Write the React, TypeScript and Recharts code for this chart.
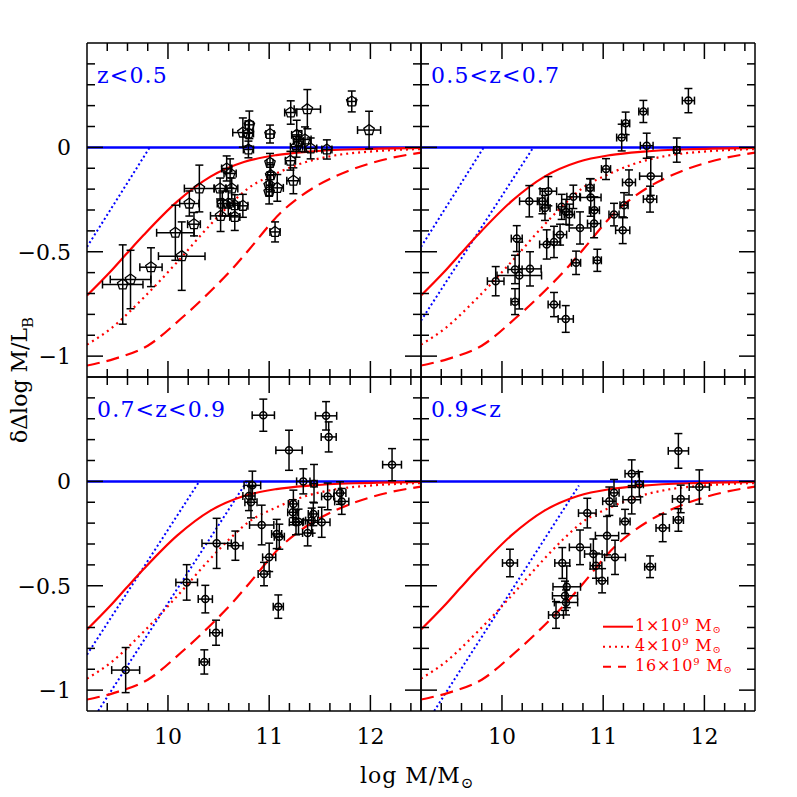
import { ComposedChart, Line, Scatter, ErrorBar, XAxis, YAxis } from 'recharts'

// axis ranges and ticks
const X_DOMAIN = [9.2, 12.5]
const Y_DOMAIN = [-1.1, 0.5]
const xMajor = [10, 11, 12]
const xTicks = [9.4, 9.6, 9.8, 10, 10.2, 10.4, 10.6, 10.8, 11, 11.2, 11.4, 11.6, 11.8, 12, 12.2, 12.4]
const yMajor = [0, -0.5, -1]
const yTicks = [0.4, 0.3, 0.2, 0.1, 0, -0.1, -0.2, -0.3, -0.4, -0.5, -0.6, -0.7, -0.8, -0.9, -1]

// model curves (burst mass)
const burst1e9 = [[9.2, -0.71], [9.43, -0.596], [9.59, -0.51], [9.76, -0.42], [10.09, -0.26], [10.42, -0.14], [10.75, -0.07], [11.07, -0.037], [11.4, -0.02], [11.9, -0.008], [12.5, -0.002]]
const burst4e9 = [[9.2, -0.945], [9.43, -0.87], [9.76, -0.72], [10.09, -0.55], [10.42, -0.37], [10.6, -0.28], [10.81, -0.19], [11.07, -0.125], [11.3, -0.08], [11.63, -0.04], [12.0, -0.02], [12.5, -0.008]]
const burst16e9 = [[9.2, -1.045], [9.47, -1.013], [9.8, -0.95], [10.13, -0.82], [10.46, -0.67], [10.64, -0.58], [10.8, -0.49], [11.12, -0.31], [11.45, -0.19], [11.78, -0.113], [12.1, -0.063], [12.5, -0.025]]
const zeroLine = [[9.2, 0], [12.5, 0]]

// blue dotted limits per panel
const limitA = [[9.2, -0.477], [9.82, 0]]
const limitB = [[9.2, -0.83], [10.31, 0]]
const limitC = [[9.31, -1.1], [10.78, 0]]
const limitC4 = [[9.33, -1.1], [10.76, -0.02]]

// galaxies: [log M, dlog M/L, err x, err y]
const galZ1 = [
  [9.553, -0.657, 0.2, 0.19], [9.63, -0.633, 0.2, 0.14], [9.832, -0.574, 0.11, 0.093], [10.136, -0.521, 0.23, 0.164],
  [10.073, -0.409, 0.185, 0.132], [10.257, -0.368, 0.063, 0.056], [10.211, -0.269, 0.095, 0.06], [10.31, -0.197, 0.148, 0.112],
  [10.515, -0.197, 0.06, 0.05], [10.63, -0.197, 0.06, 0.05], [10.537, -0.269, 0.05, 0.06], [10.596, -0.269, 0.05, 0.06],
  [10.66, -0.277, 0.05, 0.05], [10.52, -0.328, 0.1, 0.075], [10.66, -0.333, 0.05, 0.065], [10.74, -0.28, 0.05, 0.055],
  [10.58, -0.101, 0.05, 0.06], [10.614, -0.125, 0.06, 0.07], [10.804, 0.108, 0.04, 0.066], [10.74, 0.071, 0.1, 0.07],
  [10.795, 0.067, 0.05, 0.06], [10.795, -0.01, 0.05, 0.04], [11.008, 0.064, 0.04, 0.043], [11.008, -0.074, 0.03, 0.045],
  [11.015, -0.133, 0.03, 0.05], [11.0, -0.181, 0.03, 0.05], [11.0, -0.213, 0.03, 0.058], [11.08, -0.194, 0.06, 0.064],
  [11.058, -0.405, 0.05, 0.048], [11.213, 0.167, 0.06, 0.056], [11.377, 0.183, 0.13, 0.094], [11.272, 0.06, 0.05, 0.07],
  [11.354, 0.038, 0.06, 0.06], [11.27, 0.003, 0.06, 0.05], [11.41, -0.005, 0.06, 0.05], [11.57, -0.01, 0.05, 0.046],
  [11.21, -0.064, 0.05, 0.045], [11.239, -0.16, 0.065, 0.062], [11.816, 0.22, 0.04, 0.05], [11.987, 0.083, 0.114, 0.09],
  [11.29, 0.03, 0.05, 0.05],
]
const galZ2 = [
  [9.938, -0.641, 0.082, 0.07], [10.129, -0.739, 0.04, 0.062], [10.146, -0.437, 0.054, 0.062], [10.129, -0.585, 0.07, 0.068],
  [10.171, -0.614, 0.22, 0.16], [10.277, -0.582, 0.11, 0.082], [10.27, -0.258, 0.096, 0.075], [10.4, -0.258, 0.05, 0.06],
  [10.458, -0.21, 0.082, 0.07], [10.425, -0.29, 0.05, 0.06], [10.442, -0.465, 0.07, 0.07], [10.514, -0.453, 0.065, 0.075],
  [10.574, -0.418, 0.065, 0.05], [10.514, -0.753, 0.058, 0.058], [10.63, -0.822, 0.075, 0.064], [10.59, -0.285, 0.05, 0.06],
  [10.633, -0.309, 0.06, 0.06], [10.666, -0.322, 0.05, 0.05], [10.705, -0.237, 0.064, 0.056], [10.732, -0.553, 0.045, 0.056],
  [10.771, -0.386, 0.107, 0.077], [10.87, -0.194, 0.04, 0.044], [10.877, -0.24, 0.102, 0.09], [10.913, -0.301, 0.05, 0.064],
  [10.91, -0.365, 0.065, 0.068], [10.942, -0.541, 0.04, 0.053], [11.028, -0.104, 0.045, 0.05], [11.107, -0.322, 0.05, 0.054],
  [11.193, -0.397, 0.07, 0.064], [11.206, -0.277, 0.04, 0.06], [11.255, -0.168, 0.064, 0.06], [11.183, 0.047, 0.05, 0.064],
  [11.222, 0.115, 0.04, 0.054], [11.397, 0.172, 0.045, 0.053], [11.43, 0.008, 0.063, 0.06], [11.47, -0.138, 0.11, 0.092],
  [11.463, -0.248, 0.066, 0.062], [11.727, -0.013, 0.03, 0.058], [11.842, 0.224, 0.06, 0.058],
]
const galZ3 = [
  [9.582, -0.904, 0.138, 0.108], [10.185, -0.484, 0.107, 0.085], [10.369, -0.564, 0.07, 0.066], [10.475, -0.725, 0.062, 0.06],
  [10.359, -0.865, 0.05, 0.058], [10.481, -0.297, 0.145, 0.12], [10.666, -0.308, 0.075, 0.07], [10.834, -0.019, 0.082, 0.068],
  [10.8, -0.07, 0.06, 0.07], [10.82, -0.1, 0.06, 0.075], [10.926, -0.209, 0.12, 0.095], [10.942, 0.317, 0.11, 0.077],
  [11.0, -0.364, 0.065, 0.068], [10.949, -0.444, 0.058, 0.056], [11.074, -0.252, 0.05, 0.07], [11.1, -0.265, 0.05, 0.06],
  [11.09, -0.6, 0.05, 0.056], [11.196, 0.149, 0.13, 0.096], [11.239, -0.108, 0.05, 0.066], [11.233, -0.148, 0.05, 0.06],
  [11.265, -0.196, 0.066, 0.06], [11.29, -0.193, 0.05, 0.06], [11.337, 0.0, 0.066, 0.06], [11.38, -0.247, 0.05, 0.062],
  [11.436, -0.156, 0.05, 0.056], [11.42, -0.188, 0.06, 0.06], [11.443, -0.011, 0.03, 0.092], [11.519, -0.196, 0.082, 0.072],
  [11.562, 0.314, 0.105, 0.068], [11.588, 0.213, 0.074, 0.072], [11.578, -0.072, 0.06, 0.064], [11.7, -0.056, 0.058, 0.054],
  [11.717, -0.096, 0.07, 0.062], [12.214, 0.08, 0.093, 0.077],
]
const galZ4 = [
  [10.079, -0.391, 0.074, 0.066], [10.843, -0.152, 0.087, 0.071], [10.771, -0.316, 0.105, 0.083], [10.596, -0.391, 0.074, 0.074],
  [10.903, -0.348, 0.087, 0.072], [10.929, -0.404, 0.058, 0.06], [10.989, -0.476, 0.056, 0.058], [11.038, -0.26, 0.115, 0.092],
  [11.117, -0.364, 0.103, 0.082], [11.061, -0.095, 0.066, 0.068], [11.107, -0.055, 0.05, 0.064], [11.216, -0.192, 0.05, 0.058],
  [11.282, 0.037, 0.066, 0.066], [11.282, -0.088, 0.087, 0.068], [11.357, -0.014, 0.04, 0.06], [11.463, -0.409, 0.053, 0.052],
  [11.588, -0.223, 0.066, 0.066], [11.743, 0.146, 0.1, 0.083], [11.766, -0.084, 0.082, 0.066], [11.743, -0.185, 0.05, 0.054],
  [11.95, -0.027, 0.1, 0.082], [10.64, -0.505, 0.136, 0.1], [10.623, -0.548, 0.124, 0.07], [10.633, -0.58, 0.115, 0.06],
  [10.534, -0.64, 0.074, 0.064],
]

const panelLabels = ['z<0.5', '0.5<z<0.7', '0.7<z<0.9', '0.9<z']
const legendLabels = ['1×10', '4×10', '16×10']

const RED = '#ff0000'
const BLUE = '#0000ff'
const FONT = '"DejaVu Serif", "Liberation Serif", serif'

const toXY = (rows: number[][]) => rows.map(([x, y]) => ({ x, y }))
const toPts = (rows: number[][]) => rows.map(([x, y, ex, ey]) => ({ x, y, ex, ey }))
const near = (arr: number[], v: number) => arr.some((m) => Math.abs(m - v) < 1e-6)
const fmtY = (v: number) => (v === 0 ? '0' : String(v).replace('-', '\u2212'))

const panels = [
  { label: panelLabels[0], gals: galZ1, limits: [limitA], col: 0, row: 0, pentagon: true },
  { label: panelLabels[1], gals: galZ2, limits: [limitA, limitB], col: 1, row: 0, pentagon: false },
  { label: panelLabels[2], gals: galZ3, limits: [limitB, limitC], col: 0, row: 1, pentagon: false },
  { label: panelLabels[3], gals: galZ4, limits: [limitC4], col: 1, row: 1, pentagon: false },
]

const PLOT = 334
// axes take 1px each, margins are trimmed so the plot stays PLOT square
const M = { top: 9, right: 9, bottom: 59, left: 74 }

function Tick(props: any) {
  const { x, y, payload, side, label } = props
  const v = payload.value
  const horiz = side === 'bottom' || side === 'top'
  const major = near(horiz ? xMajor : yMajor, v)
  const len = major ? 16 : 8
  let x2 = x
  let y2 = y
  if (side === 'bottom') y2 = y - len
  if (side === 'top') y2 = y + len
  if (side === 'left') x2 = x + len
  if (side === 'right') x2 = x - len
  return (
    <g>
      <line x1={x} y1={y} x2={x2} y2={y2} stroke="#000" strokeWidth={1.5} />
      {label && major && side === 'bottom' && (
        <text x={x} y={y + 33} textAnchor="middle" fontFamily={FONT} fontSize={22} fill="#000">
          {String(v)}
        </text>
      )}
      {label && major && side === 'left' && (
        <text x={x - 16} y={y + 8} textAnchor="end" fontFamily={FONT} fontSize={22} fill="#000">
          {fmtY(v)}
        </text>
      )}
    </g>
  )
}

function Pentagon(props: any) {
  const { cx, cy } = props
  const r = 5.5
  const pts = [0, 1, 2, 3, 4]
    .map((i) => {
      const a = -Math.PI / 2 + (i * 2 * Math.PI) / 5
      return `${cx + r * Math.cos(a)},${cy + r * Math.sin(a)}`
    })
    .join(' ')
  return <polygon points={pts} fill="none" stroke="#000" strokeWidth={1.3} />
}

function Dot(props: any) {
  const { cx, cy } = props
  return <circle cx={cx} cy={cy} r={3.5} fill="none" stroke="#000" strokeWidth={1.5} />
}

function Panel({ p }: { p: (typeof panels)[number] }) {
  const left = 87 + PLOT * p.col - 8 - M.left - 1
  const top = 43 + PLOT * p.row - 8 - M.top - 1
  return (
    <div style={{ position: 'absolute', left, top }}>
      <ComposedChart width={PLOT + M.left + M.right + 2} height={PLOT + M.top + M.bottom + 2} margin={M}>
        <XAxis xAxisId="b" dataKey="x" type="number" domain={X_DOMAIN} allowDataOverflow ticks={xTicks} interval={0}
          height={1} tickSize={0} tickMargin={0} tickLine={false} stroke="#000" strokeWidth={1.5}
          tick={(t: any) => <Tick {...t} side="bottom" label={p.row === 1} />} />
        <XAxis xAxisId="t" orientation="top" dataKey="x" type="number" domain={X_DOMAIN} allowDataOverflow ticks={xTicks} interval={0}
          height={1} tickSize={0} tickMargin={0} tickLine={false} stroke="#000" strokeWidth={1.5}
          tick={(t: any) => <Tick {...t} side="top" label={false} />} />
        <YAxis yAxisId="l" dataKey="y" type="number" domain={Y_DOMAIN} allowDataOverflow ticks={yTicks} interval={0}
          width={1} tickSize={0} tickMargin={0} tickLine={false} stroke="#000" strokeWidth={1.5}
          tick={(t: any) => <Tick {...t} side="left" label={p.col === 0} />} />
        <YAxis yAxisId="r" orientation="right" dataKey="y" type="number" domain={Y_DOMAIN} allowDataOverflow ticks={yTicks} interval={0}
          width={1} tickSize={0} tickMargin={0} tickLine={false} stroke="#000" strokeWidth={1.5}
          tick={(t: any) => <Tick {...t} side="right" label={false} />} />

        <Line xAxisId="b" yAxisId="l" data={toXY(zeroLine)} dataKey="y" type="linear" stroke={BLUE} strokeWidth={2.5} dot={false} isAnimationActive={false} />
        {p.limits.map((l, i) => (
          <Line key={`lim-${i}`} xAxisId="b" yAxisId="l" data={toXY(l)} dataKey="y" type="linear" stroke={BLUE}
            strokeWidth={2} strokeDasharray="2 2.6" dot={false} isAnimationActive={false} />
        ))}
        <Line xAxisId="b" yAxisId="l" data={toXY(burst1e9)} dataKey="y" type="monotone" stroke={RED} strokeWidth={2.2} dot={false} isAnimationActive={false} />
        <Line xAxisId="b" yAxisId="l" data={toXY(burst4e9)} dataKey="y" type="monotone" stroke={RED} strokeWidth={2.2} strokeDasharray="2 4" dot={false} isAnimationActive={false} />
        <Line xAxisId="b" yAxisId="l" data={toXY(burst16e9)} dataKey="y" type="monotone" stroke={RED} strokeWidth={2.2} strokeDasharray="13 7" dot={false} isAnimationActive={false} />

        <Scatter xAxisId="b" yAxisId="l" data={toPts(p.gals)} dataKey="y" shape={p.pentagon ? <Pentagon /> : <Dot />} isAnimationActive={false}>
          <ErrorBar dataKey="ey" direction="y" width={4} stroke="#000" strokeWidth={1.5} isAnimationActive={false} />
          <ErrorBar dataKey="ex" direction="x" width={4} stroke="#000" strokeWidth={1.5} isAnimationActive={false} />
        </Scatter>
      </ComposedChart>
    </div>
  )
}

function Overlay() {
  const legendY = [626.7, 646.7, 666.7]
  const dashes = [undefined, '2 4', '8 7']
  return (
    <svg width={789} height={789} style={{ position: 'absolute', left: 0, top: 0, pointerEvents: 'none' }} fontFamily={FONT}>
      {panels.map((p, i) => (
        <text key={i} x={87 + PLOT * p.col + 10 - 8} y={43 + PLOT * p.row + 40 - 8} fill={BLUE} fontSize={22} letterSpacing={1.2}>
          {p.label}
        </text>
      ))}
      <text x={352} y={775} fontSize={22} fill="#000" letterSpacing={1}>
        log M/M<tspan dy={5} fontSize={15}>⊙</tspan>
      </text>
      <text transform="translate(19,372) rotate(-90)" textAnchor="middle" fontSize={22} fill="#000">
        δΔlog M/L<tspan dy={6} fontSize={15}>B</tspan>
      </text>
      {legendLabels.map((t, i) => (
        <g key={t}>
          <line x1={595} x2={625} y1={legendY[i] - 8} y2={legendY[i] - 8} stroke={RED} strokeWidth={2} strokeDasharray={dashes[i]} />
          <text x={627} y={legendY[i] - 8 + 4.5} fill={RED} fontSize={16} letterSpacing={0.8}>
            {t}<tspan dy={-6} fontSize={10}>9</tspan><tspan dy={6}> M</tspan><tspan dy={2} fontSize={10}>⊙</tspan>
          </text>
        </g>
      ))}
    </svg>
  )
}

export default function App() {
  return (
    <div style={{ position: 'relative', width: 789, height: 789 }}>
      {panels.map((p, i) => (
        <Panel key={i} p={p} />
      ))}
      <Overlay />
    </div>
  )
}
